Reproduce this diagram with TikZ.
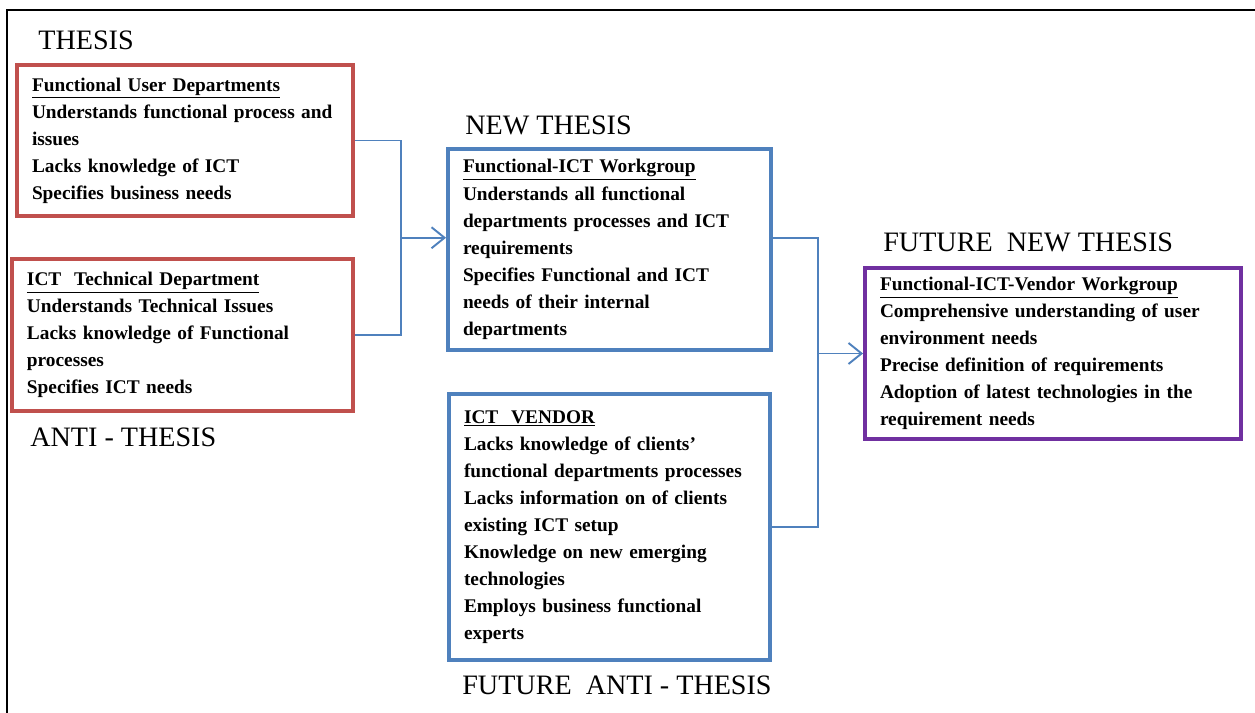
\documentclass[tikz,border=0pt]{standalone}
\usepackage{fontspec}
\setmainfont{Liberation Serif}
\usetikzlibrary{arrows.meta}

\definecolor{boxred}{HTML}{C0504D}
\definecolor{boxblue}{HTML}{4F81BD}
\definecolor{boxpurple}{HTML}{7030A0}

\tikzset{
	link/.style={color=boxblue, line width=1.1pt},
	arrowtip/.style={-{Straight Barb[length=0.26cm, width=0.42cm, line width=1.1pt]}},
	stage/.style={anchor=west, inner sep=0pt, font=\fontsize{16}{19}\selectfont}
}

\begin{document}
\begin{tikzpicture}
		\useasboundingbox (0, 0) rectangle (25.1, 14.26);
		\draw [line width=1.2pt] (0.14, 0) -- (0.14, 14.06) -- (25.1, 14.06);
		
		\begin{scope}[every node/.style={rectangle, line width=2.2pt, align=left, inner xsep=0.3cm,
				font=\fontsize{11}{15.4}\selectfont\bfseries}]
		\node[draw=boxred, text width=6.12cm, minimum height=3.02cm] (1-1) at (3.70, 11.45)
			{\underline{Functional User Departments}\\
			Understands functional process and\\ issues\\
			Lacks knowledge of ICT\\
			Specifies business needs};
		\node[draw=boxred, text width=6.22cm, minimum height=3.04cm] (1-2) at (3.65, 7.56)
			{\underline{ICT~~Technical Department}\\
			Understands Technical Issues\\
			Lacks knowledge of Functional\\ processes\\
			Specifies ICT needs};
		
		\node[draw=boxblue, text width=5.86cm, minimum height=4.02cm] (2-1) at (12.19, 9.27)
			{\underline{Functional-ICT Workgroup}\\
			Understands all functional\\ departments processes and ICT\\ requirements\\
			Specifies Functional and ICT\\ needs of their internal\\ departments};
		\node[draw=boxblue, text width=5.82cm, minimum height=5.32cm] (2-2) at (12.19, 3.72)
			{\underline{ICT~~VENDOR}\\
			Lacks knowledge of clients’\\ functional departments processes\\
			Lacks information on of clients\\ existing ICT setup\\
			Knowledge on new emerging\\ technologies\\
			Employs business functional\\ experts};
		
		\node[draw=boxpurple, text width=6.92cm, minimum height=3.42cm] (3-1) at (21.06, 7.19)
			{\underline{Functional-ICT-Vendor Workgroup}\\
			Comprehensive understanding of user\\ environment needs\\
			Precise definition of requirements\\
			Adoption of latest technologies in the\\ requirement needs};
		\end{scope}
		
		\node[stage] (thesis) at (0.76, 13.46) {THESIS};
		\node[stage] (anti) at (0.60, 5.52) {ANTI - THESIS};
		\node[stage] (new) at (9.30, 11.76) {NEW THESIS};
		\node[stage] (futanti) at (9.24, 0.56) {FUTURE~~ANTI - THESIS};
		\node[stage] (futnew) at (17.66, 9.42) {FUTURE~~NEW THESIS};
		
		\coordinate (j1) at (8.02, 9.505);
		\coordinate (j2) at (16.36, 9.505);
		
		\draw [link] (1-1.east) -| (j1) |- (1-2.east);
		\path [link, arrowtip] (j1) edge (j1 -| 2-1.west);
		
		\draw [link] (j1 -| 2-1.east) -- (j2) |- (2-2.east);
		\path [link, arrowtip] (j2 |- 3-1.west) edge (3-1.west);
		
\end{tikzpicture}
\end{document}
